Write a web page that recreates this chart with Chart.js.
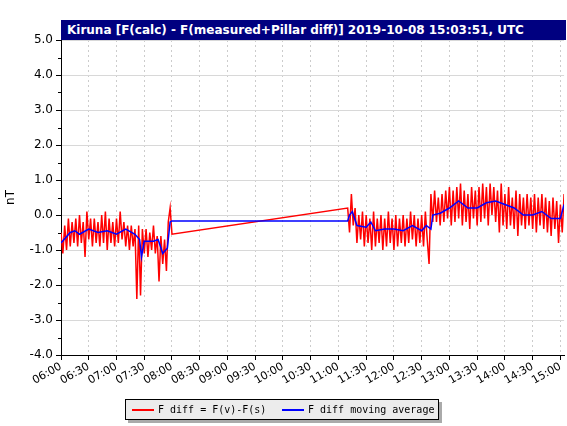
<!DOCTYPE html>
<html>
<head>
<meta charset="utf-8">
<script src="https://cdn.jsdelivr.net/npm/chart.js@4"></script>
<style>
body { margin: 0; background: #fff; }
#wrap { position: relative; width: 567px; height: 426px; }
#title { position: absolute; left: 61px; top: 20px; width: 505px; height: 20px; background: #000080;
  color: #fff; font: bold 12px "DejaVu Sans", sans-serif; line-height: 20px; padding-left: 6px; box-sizing: border-box; white-space: nowrap; }
#legend { position: absolute; left: 125px; top: 399px; width: 314px; height: 21px; background: #ececec;
  border: 1px solid #000; box-shadow: 3px 3px 0 #aaa; font: 10px "DejaVu Sans Mono", monospace; box-sizing: border-box; white-space: nowrap; }
#legend span { position: absolute; top: 4px; }
#legend i { position: absolute; top: 9px; width: 22px; height: 2px; }
</style>
</head>
<body>
<div id="wrap">
<canvas id="c" width="567" height="426"></canvas>
<div id="title">Kiruna [F(calc) - F(measured+Pillar diff)] 2019-10-08 15:03:51, UTC</div>
<div id="legend"><i style="left:6px;background:#f00"></i><span style="left:32px">F diff = F(v)-F(s)</span>
<i style="left:156px;background:#00f"></i><span style="left:182px">F diff moving average</span></div>
</div>
<script>
// minutes since 06:00
const redStart1 = 0, redStart2 = 310, redStep = 2;
const red1 = [-0.5,-1.1,-0.3,-1.0,-0.1,-0.9,-0.2,-0.8,-0.1,-0.9,
  0.0,-0.8,-0.2,-1.2,0.1,-0.7,-0.1,-0.9,-0.1,-0.8,
  -0.2,-0.9,0.0,-0.8,0.1,-1.0,-0.1,-0.8,-0.2,-0.9,
  -0.1,-0.8,0.1,-0.7,-0.2,-0.9,-0.3,-1.0,-0.3,-0.9,
  -0.4,-2.4,-0.3,-2.3,-0.4,-1.1,-0.4,-1.2,-0.5,-1.0,
  -0.3,-1.1,-0.6,-1.9,-0.6,-1.4,-0.7,-1.6,-0.2,0.2,-0.55];
const red2 = [0.2,-0.5,0.6,-0.3,0.2,-0.8,0.0,-0.7,0.1,-0.9,
  0.0,-0.8,-0.1,-1.0,0.1,-0.9,-0.1,-0.8,0.0,-1.0,
  -0.1,-0.9,0.1,-0.8,-0.1,-1.0,0.0,-0.9,-0.1,-0.8,
  0.0,-0.9,-0.1,-0.8,0.1,-0.7,0.0,-0.9,-0.1,-0.8,
  0.0,-0.9,0.1,-0.7,-1.4,0.6,-0.2,0.7,-0.2,0.5,
  -0.3,0.6,-0.2,0.7,-0.1,0.8,-0.3,0.7,-0.2,0.8,
  -0.1,0.9,-0.3,0.7,-0.2,0.6,-0.4,0.8,-0.1,0.7,
  -0.3,0.8,-0.2,0.9,-0.1,0.8,-0.3,0.9,0.0,0.8,
  -0.2,0.7,-0.5,0.9,-0.3,0.6,-0.4,0.8,-0.3,0.5,
  -0.4,0.7,-0.6,0.6,-0.3,0.5,-0.4,0.6,-0.3,0.5,
  -0.4,0.6,-0.5,0.5,-0.3,0.6,-0.4,0.5,-0.5,0.4,
  -0.6,0.5,-0.4,0.4,-0.8,0.3,-0.5,0.6];
const avgTimes = [0,10,15,20,30,40,50,60,70,80,85,87,90,100,105,110,115,118,120,
  310,312,315,320,330,335,340,350,360,370,380,390,395,400,402,410,420,430,440,450,460,470,480,490,500,510,520,530,540,544];
const avgValues = [-0.8,-0.5,-0.45,-0.55,-0.4,-0.5,-0.45,-0.55,-0.4,-0.55,-0.7,-1.2,-0.75,-0.75,-0.7,-1.1,-0.95,-0.2,-0.17,
  -0.17,0.0,0.1,-0.3,-0.35,-0.2,-0.45,-0.4,-0.4,-0.45,-0.3,-0.45,-0.3,-0.4,0.0,0.05,0.2,0.4,0.2,0.2,0.35,0.4,0.3,0.2,0.0,0.0,0.1,-0.1,-0.1,0.3];
const yTicks = [-4,-3,-2,-1,0,1,2,3,4,5];

const redData = red1.map((v, i) => ({x: redStart1 + i * redStep, y: v}))
  .concat(red2.map((v, i) => ({x: redStart2 + i * redStep, y: v})));
const avgData = avgTimes.map((t, i) => ({x: t, y: avgValues[i]}));

function hhmm(m) {
  const h = 6 + Math.floor(m / 60), mm = m % 60;
  return String(h).padStart(2, '0') + ':' + String(mm).padStart(2, '0');
}

new Chart(document.getElementById('c'), {
  type: 'line',
  data: {
    datasets: [
      {label: 'F diff moving average', data: avgData, borderColor: '#0000ff', borderWidth: 1.5, pointRadius: 0},
      {label: 'F diff = F(v)-F(s)', data: redData, borderColor: '#ff0000', borderWidth: 1.5, pointRadius: 0}
    ]
  },
  options: {
    responsive: false,
    animation: false,
    layout: {padding: {top: 40, right: 1, left: 0, bottom: 0}},
    plugins: {legend: {display: false}, tooltip: {enabled: false}},
    scales: {
      x: {
        type: 'linear', min: 0, max: 544,
        afterFit: s => { s.height = 71; },
        afterBuildTicks: s => { s.ticks = []; for (let m = 0; m <= 540; m += 30) s.ticks.push({value: m}); },
        ticks: {callback: v => hhmm(v), autoSkip: false, maxRotation: 30, minRotation: 30, color: '#000',
          font: {family: 'DejaVu Sans', size: 11}, padding: 0},
        grid: {color: '#ccc', tickColor: '#000', tickLength: 5},
        border: {color: '#000', dash: [2, 3]},
      },
      y: {
        min: -4, max: 5,
        afterFit: s => { s.width = 61; },
        afterBuildTicks: s => { s.ticks = yTicks.map(v => ({value: v})); },
        ticks: {callback: v => v.toFixed(1), color: '#000', font: {family: 'DejaVu Sans', size: 12}},
        grid: {color: '#d8d8d8', tickColor: '#000', tickLength: 5},
        border: {color: '#000'},
        title: {display: true, text: 'nT', color: '#000', font: {family: 'DejaVu Sans', size: 12}}
      }
    }
  },
  plugins: [{
    id: 'minorTicks',
    beforeDatasetsDraw(chart) {
      const y = chart.scales.y, ctx = chart.ctx, left = chart.chartArea.left;
      ctx.save(); ctx.strokeStyle = '#000'; ctx.lineWidth = 1;
      for (let v = -3.5; v < 5; v += 1) { const py = Math.round(y.getPixelForValue(v)) + 0.5;
        ctx.beginPath(); ctx.moveTo(left - 3, py); ctx.lineTo(left, py); ctx.stroke(); }
      ctx.restore();
    }
  }]
});
</script>
</body>
</html>
